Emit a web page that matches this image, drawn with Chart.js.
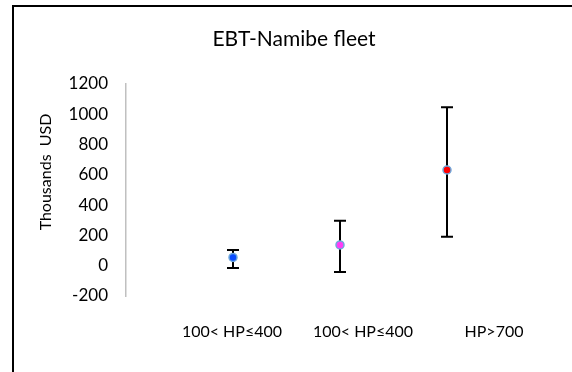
<!DOCTYPE html>
<html>
<head>
<meta charset="utf-8">
<script src="https://cdn.jsdelivr.net/npm/chart.js@4.4.0/dist/chart.umd.min.js"></script>
<style>
  html, body { margin: 0; padding: 0; background: #fff; }
</style>
</head>
<body>
<canvas id="fleetChart" width="572" height="372"></canvas>
<script>
// EBT-Namibe fleet: mean value per HP class with error range (thousands USD)
var categories = ['100< HP\u2264400', '100< HP\u2264400', 'HP>700'];
var meanValues = [55, 137, 632];
var lowValues = [-15, -42, 192];
var highValues = [104, 297, 1046];
var pointColors = ['#0b4dff', '#ff3cf5', '#ff0000'];
var yTicks = [-200, 0, 200, 400, 600, 800, 1000, 1200];

var FONT = 'Lato, "Open Sans", sans-serif';

// outer frame (left and top edges visible), chart title and axis title
var framePlugin = {
    id: 'frame',
    beforeDraw: function(chart) {
        var ctx = chart.ctx;
        ctx.save();
        ctx.fillStyle = '#fff';
        ctx.fillRect(0, 0, chart.width, chart.height);
        ctx.strokeStyle = '#000';
        ctx.lineWidth = 2;
        ctx.beginPath();
        ctx.moveTo(13, chart.height + 2);
        ctx.lineTo(13, 6);
        ctx.lineTo(chart.width + 2, 6);
        ctx.stroke();
        ctx.restore();
    },
    afterDraw: function(chart) {
        var ctx = chart.ctx;
        ctx.save();
        ctx.fillStyle = '#000';
        ctx.textAlign = 'center';
        ctx.textBaseline = 'middle';
        ctx.font = '21px ' + FONT;
        ctx.fillText('EBT-Namibe fleet', 294, 39);
        ctx.translate(46, 172);
        ctx.rotate(-Math.PI / 2);
        ctx.font = '16px ' + FONT;
        ctx.fillText('Thousands  USD', 0, 0);
        ctx.restore();
    }
};

// error bars drawn under the markers
var errorBarPlugin = {
    id: 'errorBars',
    beforeDatasetsDraw: function(chart) {
        var ctx = chart.ctx;
        var xs = chart.scales.x;
        var ys = chart.scales.y;
        ctx.save();
        ctx.strokeStyle = '#000';
        ctx.lineWidth = 2;
        for (var i = 0; i < meanValues.length; i++) {
            var px = xs.getPixelForValue(i + 1);
            var top = ys.getPixelForValue(highValues[i]);
            var bot = ys.getPixelForValue(lowValues[i]);
            ctx.beginPath();
            ctx.moveTo(px, top);
            ctx.lineTo(px, bot);
            ctx.moveTo(px - 6, top);
            ctx.lineTo(px + 6, top);
            ctx.moveTo(px - 6, bot);
            ctx.lineTo(px + 6, bot);
            ctx.stroke();
        }
        ctx.restore();
    }
};

var points = meanValues.map(function(v, i) {
    return { x: i + 1, y: v };
});

new Chart(document.getElementById('fleetChart').getContext('2d'), {
    type: 'scatter',
    data: {
        datasets: [{
            data: points,
            xAxisID: 'x',
            yAxisID: 'y',
            pointRadius: 4,
            pointBorderWidth: 1.5,
            pointBackgroundColor: pointColors,
            pointBorderColor: '#6fa8dc'
        }]
    },
    options: {
        responsive: false,
        animation: false,
        layout: { padding: { left: 16, right: 18, top: 84, bottom: 0 } },
        plugins: {
            legend: { display: false },
            tooltip: { enabled: false },
            title: { display: false }
        },
        scales: {
            x: {
                type: 'linear',
                display: false,
                min: 0,
                max: 4
            },
            xLab: {
                type: 'linear',
                position: 'bottom',
                min: -0.809,
                max: 2.458,
                grid: { display: false, drawTicks: false },
                border: { display: false },
                afterBuildTicks: function(scale) {
                    scale.ticks = categories.map(function(c, i) { return { value: i }; });
                },
                afterFit: function(scale) { scale.height = 76; },
                ticks: {
                    autoSkip: false,
                    maxRotation: 0,
                    padding: 26,
                    color: '#000',
                    font: { family: FONT, size: 16 },
                    callback: function(v) { return categories[v]; }
                }
            },
            y: {
                min: -200,
                max: 1200,
                grid: { display: false, drawTicks: false },
                border: { display: true, color: '#c0c0c0', width: 1.5 },
                afterBuildTicks: function(scale) {
                    scale.ticks = yTicks.map(function(v) { return { value: v }; });
                },
                afterFit: function(scale) { scale.width = 110; },
                ticks: {
                    padding: 18,
                    color: '#000',
                    font: { family: FONT, size: 17 },
                    callback: function(v) { return String(v); }
                }
            }
        }
    },
    plugins: [framePlugin, errorBarPlugin]
});
</script>
</body>
</html>
